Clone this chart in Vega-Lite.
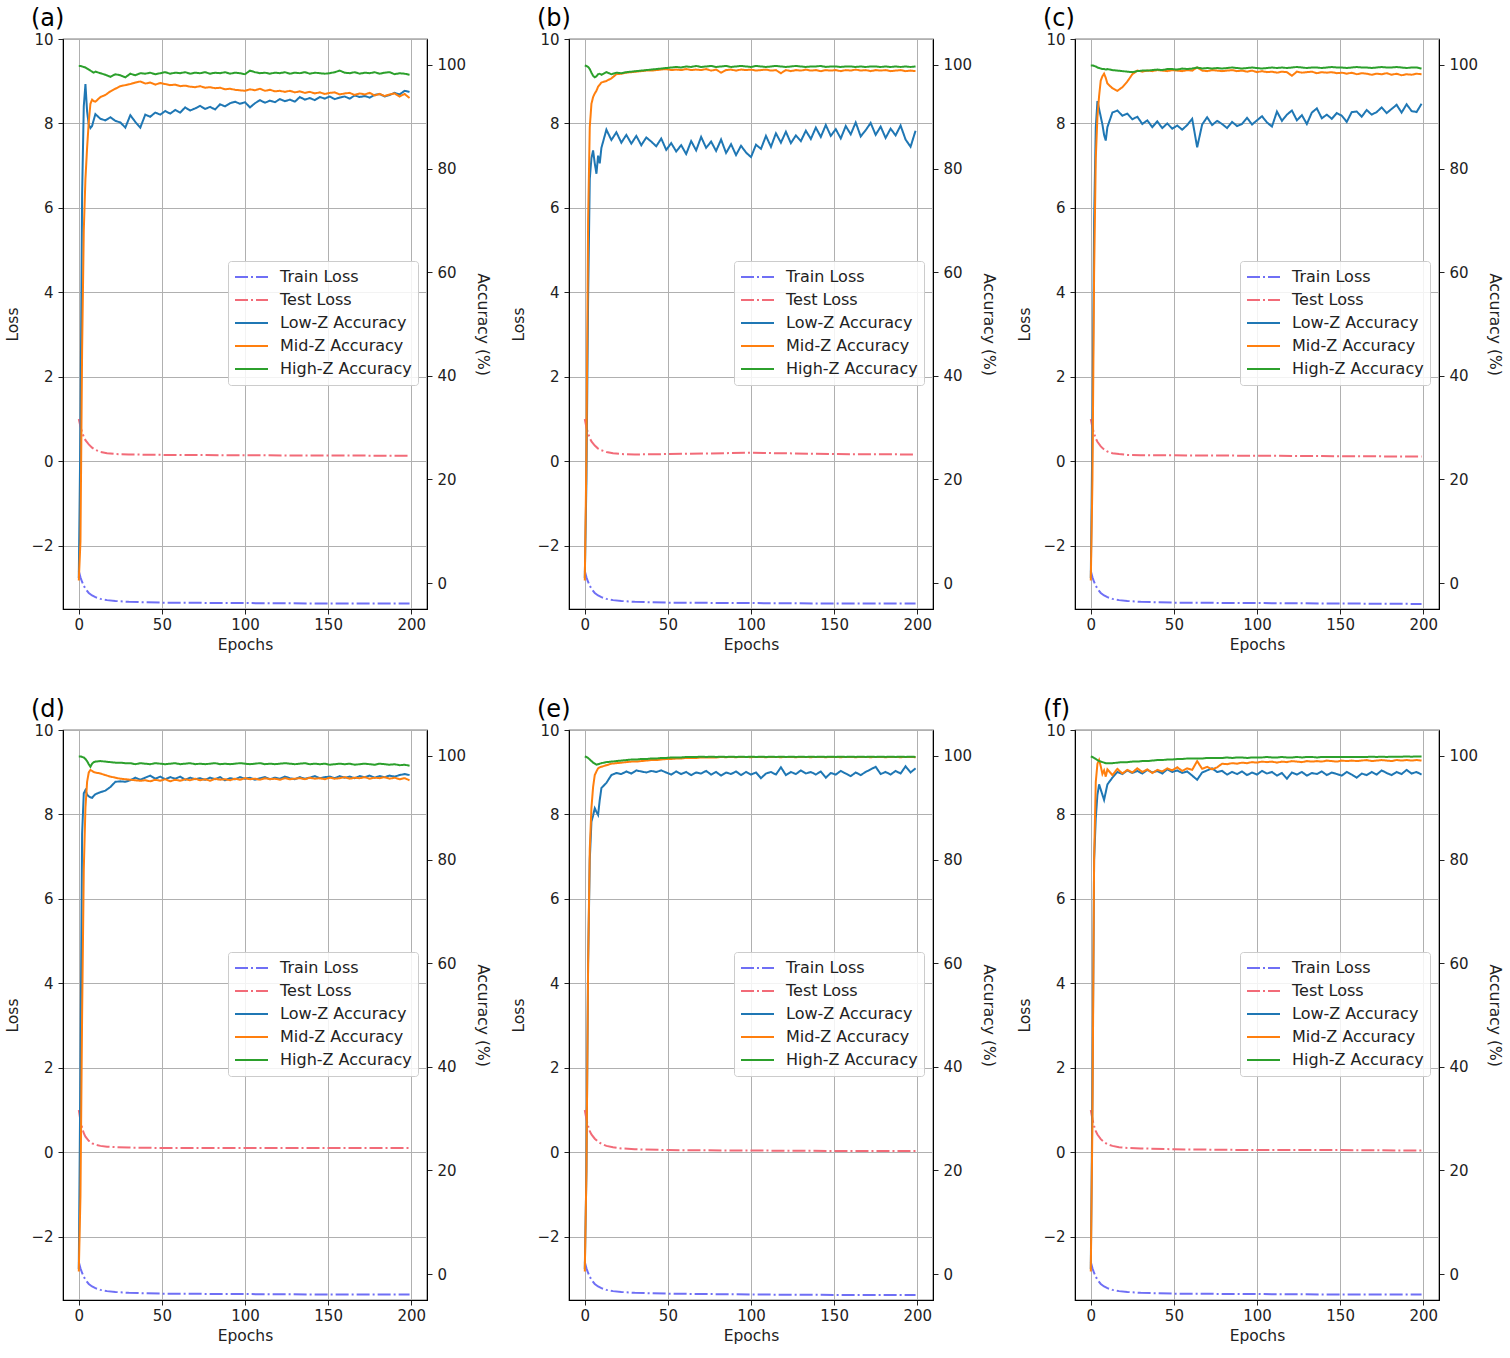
{
"$schema": "https://vega.github.io/schema/vega-lite/v6.json",
"background": "white",
"padding": {"left": 5, "top": 6, "right": 5, "bottom": 5},
"columns": 3,
"spacing": {"row": 43, "column": 20},
"resolve": {"scale": {"color": "independent", "strokeDash": "independent"}, "legend": {"color": "independent", "strokeDash": "independent"}},
"config": {
 "font": "DejaVu Sans",
 "view": {"stroke": "#000", "strokeWidth": 1.2},
 "axis": {"labelFont": "DejaVu Sans", "titleFont": "DejaVu Sans", "labelFontSize": 15, "titleFontSize": 15.5, "titleFontWeight": "normal", "labelColor": "#222", "titleColor": "#222", "domainColor": "#000", "tickColor": "#222", "tickSize": 5, "gridColor": "#b0b0b0", "gridWidth": 1},
 "title": {"font": "DejaVu Sans", "fontSize": 24, "fontWeight": "normal", "anchor": "start", "frame": "group", "dx": -32, "color": "#000", "offset": 1},
 "legend": {"labelFont": "DejaVu Sans", "labelFontSize": 16, "labelColor": "#222", "symbolType": "stroke", "symbolSize": 1089, "symbolStrokeWidth": 2, "fillColor": "rgba(255,255,255,0.85)", "strokeColor": "#cccccc", "cornerRadius": 3, "padding": 6, "labelOffset": 11, "labelLimit": 300, "rowPadding": 3, "clipHeight": 20}
},
"datasets": {
"loss": [
{"p":"a","e":0,"tr":-2.6,"te":1.0},{"p":"a","e":1,"tr":-2.75,"te":0.82},{"p":"a","e":2,"tr":-2.86,"te":0.68},{"p":"a","e":3,"tr":-2.95,"te":0.58},{"p":"a","e":4,"tr":-3.02,"te":0.5},{"p":"a","e":6,"tr":-3.12,"te":0.4},{"p":"a","e":8,"tr":-3.18,"te":0.32},{"p":"a","e":10,"tr":-3.22,"te":0.27},{"p":"a","e":13,"tr":-3.26,"te":0.22},{"p":"a","e":17,"tr":-3.29,"te":0.19},{"p":"a","e":22,"tr":-3.31,"te":0.17},{"p":"a","e":30,"tr":-3.33,"te":0.16},{"p":"a","e":50,"tr":-3.35,"te":0.15},{"p":"a","e":100,"tr":-3.36,"te":0.14},{"p":"a","e":150,"tr":-3.37,"te":0.135},{"p":"a","e":199,"tr":-3.37,"te":0.13},
{"p":"b","e":0,"tr":-2.6,"te":1.0},{"p":"b","e":1,"tr":-2.75,"te":0.8},{"p":"b","e":2,"tr":-2.86,"te":0.66},{"p":"b","e":3,"tr":-2.95,"te":0.55},{"p":"b","e":4,"tr":-3.02,"te":0.47},{"p":"b","e":6,"tr":-3.12,"te":0.37},{"p":"b","e":8,"tr":-3.18,"te":0.3},{"p":"b","e":10,"tr":-3.22,"te":0.26},{"p":"b","e":13,"tr":-3.26,"te":0.22},{"p":"b","e":17,"tr":-3.29,"te":0.19},{"p":"b","e":22,"tr":-3.31,"te":0.17},{"p":"b","e":30,"tr":-3.33,"te":0.16},{"p":"b","e":50,"tr":-3.35,"te":0.17},{"p":"b","e":100,"tr":-3.36,"te":0.2},{"p":"b","e":150,"tr":-3.37,"te":0.17},{"p":"b","e":199,"tr":-3.37,"te":0.16},
{"p":"c","e":0,"tr":-2.6,"te":1.0},{"p":"c","e":1,"tr":-2.75,"te":0.8},{"p":"c","e":2,"tr":-2.86,"te":0.65},{"p":"c","e":3,"tr":-2.95,"te":0.54},{"p":"c","e":4,"tr":-3.02,"te":0.46},{"p":"c","e":6,"tr":-3.12,"te":0.35},{"p":"c","e":8,"tr":-3.18,"te":0.28},{"p":"c","e":10,"tr":-3.22,"te":0.23},{"p":"c","e":13,"tr":-3.26,"te":0.19},{"p":"c","e":17,"tr":-3.29,"te":0.17},{"p":"c","e":22,"tr":-3.31,"te":0.15},{"p":"c","e":30,"tr":-3.33,"te":0.14},{"p":"c","e":50,"tr":-3.35,"te":0.14},{"p":"c","e":100,"tr":-3.36,"te":0.13},{"p":"c","e":150,"tr":-3.37,"te":0.12},{"p":"c","e":199,"tr":-3.38,"te":0.11},
{"p":"d","e":0,"tr":-2.6,"te":1.0},{"p":"d","e":1,"tr":-2.75,"te":0.75},{"p":"d","e":2,"tr":-2.86,"te":0.58},{"p":"d","e":3,"tr":-2.95,"te":0.45},{"p":"d","e":4,"tr":-3.02,"te":0.37},{"p":"d","e":6,"tr":-3.12,"te":0.27},{"p":"d","e":8,"tr":-3.18,"te":0.21},{"p":"d","e":10,"tr":-3.22,"te":0.18},{"p":"d","e":13,"tr":-3.26,"te":0.15},{"p":"d","e":17,"tr":-3.29,"te":0.13},{"p":"d","e":22,"tr":-3.31,"te":0.12},{"p":"d","e":30,"tr":-3.33,"te":0.11},{"p":"d","e":50,"tr":-3.35,"te":0.1},{"p":"d","e":100,"tr":-3.36,"te":0.1},{"p":"d","e":150,"tr":-3.37,"te":0.1},{"p":"d","e":199,"tr":-3.37,"te":0.1},
{"p":"e","e":0,"tr":-2.6,"te":1.0},{"p":"e","e":1,"tr":-2.75,"te":0.78},{"p":"e","e":2,"tr":-2.86,"te":0.62},{"p":"e","e":3,"tr":-2.95,"te":0.5},{"p":"e","e":4,"tr":-3.02,"te":0.42},{"p":"e","e":6,"tr":-3.12,"te":0.32},{"p":"e","e":8,"tr":-3.18,"te":0.25},{"p":"e","e":10,"tr":-3.22,"te":0.2},{"p":"e","e":13,"tr":-3.26,"te":0.15},{"p":"e","e":17,"tr":-3.29,"te":0.12},{"p":"e","e":22,"tr":-3.31,"te":0.09},{"p":"e","e":30,"tr":-3.33,"te":0.07},{"p":"e","e":50,"tr":-3.35,"te":0.05},{"p":"e","e":100,"tr":-3.37,"te":0.04},{"p":"e","e":150,"tr":-3.38,"te":0.03},{"p":"e","e":199,"tr":-3.38,"te":0.03},
{"p":"f","e":0,"tr":-2.6,"te":1.0},{"p":"f","e":1,"tr":-2.75,"te":0.78},{"p":"f","e":2,"tr":-2.86,"te":0.62},{"p":"f","e":3,"tr":-2.95,"te":0.5},{"p":"f","e":4,"tr":-3.02,"te":0.42},{"p":"f","e":6,"tr":-3.12,"te":0.31},{"p":"f","e":8,"tr":-3.18,"te":0.24},{"p":"f","e":10,"tr":-3.22,"te":0.19},{"p":"f","e":13,"tr":-3.26,"te":0.15},{"p":"f","e":17,"tr":-3.29,"te":0.12},{"p":"f","e":22,"tr":-3.31,"te":0.1},{"p":"f","e":30,"tr":-3.33,"te":0.09},{"p":"f","e":50,"tr":-3.35,"te":0.07},{"p":"f","e":100,"tr":-3.36,"te":0.05},{"p":"f","e":150,"tr":-3.37,"te":0.05},{"p":"f","e":199,"tr":-3.37,"te":0.04}
],
"acc": [
{"p":"a","e":0,"l":1,"m":0.5,"h":99.8},{"p":"a","e":1,"l":30,"m":8,"h":99.8},{"p":"a","e":2,"l":75,"m":45,"h":99.7},{"p":"a","e":3,"l":92,"m":68,"h":99.6},{"p":"a","e":4,"l":96.3,"m":78,"h":99.5},{"p":"a","e":5,"l":91,"m":84,"h":99.3},{"p":"a","e":6,"l":88.5,"m":89,"h":99.1},{"p":"a","e":7,"l":87.8,"m":92.5,"h":98.9},{"p":"a","e":8,"l":88.2,"m":93.3,"h":98.7},{"p":"a","e":9,"l":89.4,"m":93.0,"h":98.5},{"p":"a","e":10,"l":90.5,"m":92.9,"h":98.7},
{"p":"a","e":13,"l":89.6,"m":93.8,"h":98.4},{"p":"a","e":16,"l":89.3,"m":94.2,"h":98.1},{"p":"a","e":19,"l":89.9,"m":94.9,"h":97.7},{"p":"a","e":22,"l":89.2,"m":95.4,"h":98.2},{"p":"a","e":25,"l":88.9,"m":95.9,"h":98.0},{"p":"a","e":28,"l":87.9,"m":96.1,"h":97.6},{"p":"a","e":31,"l":90.3,"m":96.3,"h":98.3},{"p":"a","e":34,"l":89.0,"m":96.6,"h":98.0},{"p":"a","e":37,"l":87.9,"m":96.8,"h":98.4},{"p":"a","e":40,"l":90.4,"m":96.4,"h":98.3},{"p":"a","e":43,"l":90.0,"m":96.6,"h":98.5},{"p":"a","e":46,"l":90.8,"m":96.2,"h":98.2},{"p":"a","e":49,"l":90.4,"m":96.5,"h":98.4},{"p":"a","e":52,"l":91.1,"m":96.3,"h":98.6},{"p":"a","e":55,"l":90.6,"m":96.1,"h":98.3},{"p":"a","e":58,"l":91.3,"m":96.2,"h":98.5},{"p":"a","e":61,"l":90.8,"m":95.9,"h":98.4},{"p":"a","e":64,"l":91.8,"m":96.0,"h":98.6},{"p":"a","e":67,"l":91.2,"m":95.8,"h":98.3},{"p":"a","e":70,"l":91.6,"m":95.7,"h":98.5},{"p":"a","e":73,"l":92.1,"m":95.9,"h":98.4},{"p":"a","e":76,"l":91.5,"m":95.6,"h":98.6},{"p":"a","e":79,"l":91.9,"m":95.7,"h":98.3},{"p":"a","e":82,"l":91.4,"m":95.5,"h":98.5},{"p":"a","e":85,"l":92.4,"m":95.6,"h":98.4},{"p":"a","e":88,"l":92.0,"m":95.3,"h":98.6},{"p":"a","e":91,"l":92.6,"m":95.4,"h":98.3},{"p":"a","e":94,"l":92.9,"m":95.2,"h":98.5},{"p":"a","e":97,"l":92.5,"m":95.1,"h":98.4},{"p":"a","e":100,"l":92.8,"m":95.0,"h":98.2},{"p":"a","e":103,"l":91.8,"m":95.3,"h":98.9},{"p":"a","e":106,"l":92.6,"m":95.1,"h":98.6},{"p":"a","e":109,"l":93.2,"m":95.4,"h":98.4},{"p":"a","e":112,"l":92.7,"m":95.0,"h":98.5},{"p":"a","e":115,"l":93.1,"m":95.2,"h":98.3},{"p":"a","e":118,"l":92.8,"m":94.9,"h":98.5},{"p":"a","e":121,"l":93.4,"m":95.0,"h":98.4},{"p":"a","e":124,"l":93.0,"m":94.8,"h":98.6},{"p":"a","e":127,"l":93.3,"m":95.0,"h":98.3},{"p":"a","e":130,"l":92.9,"m":94.7,"h":98.5},{"p":"a","e":133,"l":93.8,"m":94.9,"h":98.4},{"p":"a","e":136,"l":93.3,"m":94.6,"h":98.6},{"p":"a","e":139,"l":93.6,"m":94.8,"h":98.3},{"p":"a","e":142,"l":93.2,"m":94.5,"h":98.5},{"p":"a","e":145,"l":93.8,"m":94.7,"h":98.4},{"p":"a","e":148,"l":93.5,"m":94.4,"h":98.3},{"p":"a","e":151,"l":93.9,"m":94.6,"h":98.4},{"p":"a","e":154,"l":93.4,"m":94.7,"h":98.6},{"p":"a","e":157,"l":93.7,"m":94.3,"h":98.9},{"p":"a","e":160,"l":93.9,"m":94.5,"h":98.5},{"p":"a","e":163,"l":93.5,"m":94.6,"h":98.4},{"p":"a","e":166,"l":94.1,"m":94.2,"h":98.6},{"p":"a","e":169,"l":93.8,"m":94.5,"h":98.3},{"p":"a","e":172,"l":94.0,"m":94.3,"h":98.5},{"p":"a","e":175,"l":93.7,"m":94.6,"h":98.4},{"p":"a","e":178,"l":94.2,"m":94.1,"h":98.6},{"p":"a","e":181,"l":94.4,"m":94.4,"h":98.3},{"p":"a","e":184,"l":93.9,"m":94.0,"h":98.5},{"p":"a","e":187,"l":94.2,"m":94.3,"h":98.6},{"p":"a","e":190,"l":94.6,"m":94.5,"h":98.2},{"p":"a","e":193,"l":94.3,"m":93.9,"h":98.4},{"p":"a","e":196,"l":95.0,"m":94.4,"h":98.3},{"p":"a","e":199,"l":94.8,"m":93.6,"h":98.1},
{"p":"b","e":0,"l":1,"m":0.5,"h":99.9},{"p":"b","e":1,"l":20,"m":25,"h":99.8},{"p":"b","e":2,"l":55,"m":70,"h":99.6},{"p":"b","e":3,"l":78,"m":88,"h":99.2},{"p":"b","e":4,"l":82,"m":92.5,"h":98.5},{"p":"b","e":5,"l":83.5,"m":93.8,"h":97.9},{"p":"b","e":6,"l":81,"m":94.5,"h":97.6},{"p":"b","e":7,"l":79,"m":95.0,"h":97.8},{"p":"b","e":8,"l":82.5,"m":95.8,"h":98.2},{"p":"b","e":9,"l":81,"m":96.2,"h":98.3},{"p":"b","e":10,"l":84,"m":96.6,"h":98.1},
{"p":"b","e":13,"l":87.5,"m":96.9,"h":98.6},{"p":"b","e":16,"l":85.5,"m":97.4,"h":98.2},{"p":"b","e":19,"l":87,"m":98.2,"h":98.5},{"p":"b","e":22,"l":85,"m":98.3,"h":98.4},{"p":"b","e":25,"l":86.5,"m":98.5,"h":98.6},{"p":"b","e":28,"l":84.8,"m":98.6,"h":98.7},{"p":"b","e":31,"l":86.3,"m":98.7,"h":98.8},{"p":"b","e":34,"l":84.5,"m":98.8,"h":98.9},{"p":"b","e":37,"l":86,"m":98.9,"h":99.0},{"p":"b","e":40,"l":85.2,"m":98.9,"h":99.1},{"p":"b","e":43,"l":84.3,"m":99.0,"h":99.2},{"p":"b","e":46,"l":85.8,"m":99.1,"h":99.3},{"p":"b","e":49,"l":83.6,"m":99.2,"h":99.4},{"p":"b","e":52,"l":84.9,"m":99.0,"h":99.5},{"p":"b","e":55,"l":83.3,"m":99.1,"h":99.6},{"p":"b","e":58,"l":84.5,"m":99.0,"h":99.5},{"p":"b","e":61,"l":82.8,"m":99.2,"h":99.7},{"p":"b","e":64,"l":85.3,"m":99.0,"h":99.6},{"p":"b","e":67,"l":83.5,"m":99.1,"h":99.8},{"p":"b","e":70,"l":86.1,"m":99.0,"h":99.6},{"p":"b","e":73,"l":84,"m":99.2,"h":99.7},{"p":"b","e":76,"l":85.2,"m":98.9,"h":99.8},{"p":"b","e":79,"l":83.4,"m":99.1,"h":99.6},{"p":"b","e":82,"l":85.6,"m":98.5,"h":99.7},{"p":"b","e":85,"l":83,"m":99.0,"h":99.8},{"p":"b","e":88,"l":84.7,"m":99.1,"h":99.6},{"p":"b","e":91,"l":82.6,"m":98.9,"h":99.7},{"p":"b","e":94,"l":84.4,"m":99.1,"h":99.8},{"p":"b","e":97,"l":83.1,"m":99.0,"h":99.7},{"p":"b","e":100,"l":82.2,"m":99.1,"h":99.6},{"p":"b","e":103,"l":84.6,"m":98.9,"h":99.8},{"p":"b","e":106,"l":83.8,"m":99.0,"h":99.7},{"p":"b","e":109,"l":86.3,"m":99.1,"h":99.6},{"p":"b","e":112,"l":84.2,"m":98.9,"h":99.7},{"p":"b","e":115,"l":86.8,"m":99.0,"h":99.8},{"p":"b","e":118,"l":85,"m":98.4,"h":99.7},{"p":"b","e":121,"l":87.1,"m":99.0,"h":99.6},{"p":"b","e":124,"l":84.9,"m":98.8,"h":99.7},{"p":"b","e":127,"l":86.4,"m":99.0,"h":99.8},{"p":"b","e":130,"l":85.3,"m":98.9,"h":99.7},{"p":"b","e":133,"l":87.3,"m":99.1,"h":99.6},{"p":"b","e":136,"l":85.7,"m":98.9,"h":99.7},{"p":"b","e":139,"l":87.9,"m":99.0,"h":99.7},{"p":"b","e":142,"l":86.1,"m":98.8,"h":99.8},{"p":"b","e":145,"l":88.4,"m":99.0,"h":99.6},{"p":"b","e":148,"l":86.3,"m":98.9,"h":99.7},{"p":"b","e":151,"l":87.6,"m":99.0,"h":99.7},{"p":"b","e":154,"l":85.8,"m":98.8,"h":99.6},{"p":"b","e":157,"l":88.2,"m":99.0,"h":99.7},{"p":"b","e":160,"l":86.6,"m":98.9,"h":99.7},{"p":"b","e":163,"l":88.9,"m":99.1,"h":99.6},{"p":"b","e":166,"l":86.2,"m":98.9,"h":99.7},{"p":"b","e":169,"l":87.4,"m":99.0,"h":99.6},{"p":"b","e":172,"l":88.8,"m":98.8,"h":99.7},{"p":"b","e":175,"l":86.5,"m":99.0,"h":99.7},{"p":"b","e":178,"l":88.1,"m":98.9,"h":99.6},{"p":"b","e":181,"l":85.9,"m":99.0,"h":99.7},{"p":"b","e":184,"l":87.7,"m":98.8,"h":99.6},{"p":"b","e":187,"l":86.4,"m":98.9,"h":99.7},{"p":"b","e":190,"l":88.3,"m":99.0,"h":99.6},{"p":"b","e":193,"l":85.6,"m":98.8,"h":99.7},{"p":"b","e":196,"l":84.2,"m":98.9,"h":99.6},{"p":"b","e":199,"l":87.3,"m":98.8,"h":99.7},
{"p":"c","e":0,"l":1,"m":0.5,"h":99.9},{"p":"c","e":1,"l":30,"m":20,"h":99.9},{"p":"c","e":2,"l":70,"m":60,"h":99.8},{"p":"c","e":3,"l":88,"m":82,"h":99.7},{"p":"c","e":4,"l":93,"m":90,"h":99.5},{"p":"c","e":5,"l":91.5,"m":94,"h":99.4},{"p":"c","e":6,"l":90,"m":97,"h":99.3},{"p":"c","e":7,"l":88.5,"m":97.8,"h":99.2},{"p":"c","e":8,"l":86.5,"m":98.3,"h":99.2},{"p":"c","e":9,"l":85.4,"m":97.5,"h":99.1},{"p":"c","e":10,"l":88,"m":96.4,"h":99.2},
{"p":"c","e":13,"l":90.8,"m":95.5,"h":99.0},{"p":"c","e":16,"l":91.2,"m":95.0,"h":98.9},{"p":"c","e":19,"l":90.2,"m":95.7,"h":98.8},{"p":"c","e":22,"l":90.6,"m":96.8,"h":98.7},{"p":"c","e":25,"l":89.5,"m":98.2,"h":98.6},{"p":"c","e":28,"l":90.0,"m":98.9,"h":98.8},{"p":"c","e":31,"l":88.6,"m":98.7,"h":98.9},{"p":"c","e":34,"l":89.3,"m":98.9,"h":98.9},{"p":"c","e":37,"l":88.0,"m":98.8,"h":99.0},{"p":"c","e":40,"l":89.1,"m":99.0,"h":99.1},{"p":"c","e":43,"l":87.8,"m":98.9,"h":99.0},{"p":"c","e":46,"l":88.7,"m":98.8,"h":99.2},{"p":"c","e":49,"l":87.7,"m":99.0,"h":99.2},{"p":"c","e":52,"l":88.3,"m":98.9,"h":99.1},{"p":"c","e":55,"l":87.5,"m":98.8,"h":99.3},{"p":"c","e":58,"l":88.4,"m":99.0,"h":99.2},{"p":"c","e":61,"l":89.6,"m":98.9,"h":99.3},{"p":"c","e":64,"l":84.1,"m":99.5,"h":99.5},{"p":"c","e":67,"l":88.5,"m":98.9,"h":99.3},{"p":"c","e":70,"l":89.9,"m":98.8,"h":99.4},{"p":"c","e":73,"l":88.4,"m":99.0,"h":99.3},{"p":"c","e":76,"l":89.2,"m":98.9,"h":99.4},{"p":"c","e":79,"l":88.6,"m":98.8,"h":99.3},{"p":"c","e":82,"l":87.8,"m":98.9,"h":99.4},{"p":"c","e":85,"l":89.0,"m":99.0,"h":99.5},{"p":"c","e":88,"l":88.2,"m":98.8,"h":99.4},{"p":"c","e":91,"l":88.6,"m":98.9,"h":99.3},{"p":"c","e":94,"l":89.8,"m":98.7,"h":99.4},{"p":"c","e":97,"l":88.5,"m":98.9,"h":99.5},{"p":"c","e":100,"l":89.3,"m":98.6,"h":99.4},{"p":"c","e":103,"l":90.1,"m":98.8,"h":99.3},{"p":"c","e":106,"l":88.9,"m":98.6,"h":99.4},{"p":"c","e":109,"l":88.1,"m":98.7,"h":99.5},{"p":"c","e":112,"l":91.0,"m":98.5,"h":99.4},{"p":"c","e":115,"l":89.2,"m":98.7,"h":99.5},{"p":"c","e":118,"l":90.4,"m":98.6,"h":99.4},{"p":"c","e":121,"l":91.2,"m":97.9,"h":99.5},{"p":"c","e":124,"l":89.3,"m":98.7,"h":99.6},{"p":"c","e":127,"l":90.3,"m":98.5,"h":99.5},{"p":"c","e":130,"l":88.6,"m":98.6,"h":99.4},{"p":"c","e":133,"l":90.8,"m":98.7,"h":99.5},{"p":"c","e":136,"l":91.6,"m":98.4,"h":99.5},{"p":"c","e":139,"l":89.7,"m":98.6,"h":99.4},{"p":"c","e":142,"l":90.4,"m":98.5,"h":99.5},{"p":"c","e":145,"l":89.6,"m":98.6,"h":99.6},{"p":"c","e":148,"l":90.7,"m":98.4,"h":99.5},{"p":"c","e":151,"l":90.2,"m":98.5,"h":99.5},{"p":"c","e":154,"l":89.0,"m":98.3,"h":99.4},{"p":"c","e":157,"l":90.9,"m":98.5,"h":99.5},{"p":"c","e":160,"l":91.0,"m":98.2,"h":99.6},{"p":"c","e":163,"l":90.0,"m":98.4,"h":99.5},{"p":"c","e":166,"l":91.3,"m":98.3,"h":99.5},{"p":"c","e":169,"l":90.4,"m":98.1,"h":99.4},{"p":"c","e":172,"l":90.9,"m":98.3,"h":99.5},{"p":"c","e":175,"l":91.8,"m":98.2,"h":99.6},{"p":"c","e":178,"l":90.7,"m":98.4,"h":99.5},{"p":"c","e":181,"l":91.5,"m":98.1,"h":99.5},{"p":"c","e":184,"l":92.3,"m":98.3,"h":99.6},{"p":"c","e":187,"l":90.8,"m":98.0,"h":99.5},{"p":"c","e":190,"l":92.4,"m":98.2,"h":99.4},{"p":"c","e":193,"l":91.1,"m":98.1,"h":99.5},{"p":"c","e":196,"l":90.9,"m":98.3,"h":99.5},{"p":"c","e":199,"l":92.5,"m":98.2,"h":99.3},
{"p":"d","e":0,"l":1,"m":0.5,"h":99.9},{"p":"d","e":1,"l":40,"m":15,"h":99.9},{"p":"d","e":2,"l":85,"m":50,"h":99.8},{"p":"d","e":3,"l":92.8,"m":78,"h":99.7},{"p":"d","e":4,"l":93.4,"m":90,"h":99.4},{"p":"d","e":5,"l":92.5,"m":95,"h":99.0},{"p":"d","e":6,"l":92.2,"m":96.8,"h":98.4},{"p":"d","e":7,"l":92.0,"m":97.3,"h":97.9},{"p":"d","e":8,"l":91.9,"m":97.1,"h":98.5},{"p":"d","e":9,"l":92.3,"m":96.9,"h":98.8},{"p":"d","e":10,"l":92.6,"m":96.8,"h":98.9},
{"p":"d","e":13,"l":93.0,"m":96.6,"h":99.0},{"p":"d","e":16,"l":93.3,"m":96.3,"h":98.9},{"p":"d","e":19,"l":94.0,"m":96.0,"h":98.8},{"p":"d","e":22,"l":95.0,"m":95.8,"h":98.7},{"p":"d","e":25,"l":95.1,"m":95.6,"h":98.7},{"p":"d","e":28,"l":95.0,"m":95.5,"h":98.6},{"p":"d","e":31,"l":95.3,"m":95.4,"h":98.6},{"p":"d","e":34,"l":95.8,"m":95.3,"h":98.4},{"p":"d","e":37,"l":95.4,"m":95.2,"h":98.6},{"p":"d","e":40,"l":95.8,"m":95.3,"h":98.5},{"p":"d","e":43,"l":96.2,"m":95.1,"h":98.4},{"p":"d","e":46,"l":95.6,"m":95.4,"h":98.6},{"p":"d","e":49,"l":96.0,"m":95.2,"h":98.5},{"p":"d","e":52,"l":95.5,"m":95.5,"h":98.4},{"p":"d","e":55,"l":95.9,"m":95.1,"h":98.5},{"p":"d","e":58,"l":95.6,"m":95.4,"h":98.6},{"p":"d","e":61,"l":96.0,"m":95.2,"h":98.4},{"p":"d","e":64,"l":95.4,"m":95.5,"h":98.5},{"p":"d","e":67,"l":95.8,"m":95.3,"h":98.6},{"p":"d","e":70,"l":95.5,"m":95.6,"h":98.4},{"p":"d","e":73,"l":95.7,"m":95.3,"h":98.5},{"p":"d","e":76,"l":95.4,"m":95.5,"h":98.4},{"p":"d","e":79,"l":95.8,"m":95.2,"h":98.5},{"p":"d","e":82,"l":95.5,"m":95.6,"h":98.6},{"p":"d","e":85,"l":95.9,"m":95.4,"h":98.4},{"p":"d","e":88,"l":95.3,"m":95.5,"h":98.5},{"p":"d","e":91,"l":95.7,"m":95.3,"h":98.4},{"p":"d","e":94,"l":95.5,"m":95.6,"h":98.5},{"p":"d","e":97,"l":95.9,"m":95.4,"h":98.6},{"p":"d","e":100,"l":95.6,"m":95.7,"h":98.5},{"p":"d","e":103,"l":95.8,"m":95.5,"h":98.4},{"p":"d","e":106,"l":95.4,"m":95.6,"h":98.5},{"p":"d","e":109,"l":95.7,"m":95.4,"h":98.6},{"p":"d","e":112,"l":95.9,"m":95.7,"h":98.4},{"p":"d","e":115,"l":95.5,"m":95.5,"h":98.5},{"p":"d","e":118,"l":95.8,"m":95.6,"h":98.4},{"p":"d","e":121,"l":95.6,"m":95.4,"h":98.5},{"p":"d","e":124,"l":96.0,"m":95.7,"h":98.6},{"p":"d","e":127,"l":95.7,"m":95.5,"h":98.5},{"p":"d","e":130,"l":95.5,"m":95.6,"h":98.4},{"p":"d","e":133,"l":95.9,"m":95.7,"h":98.5},{"p":"d","e":136,"l":95.6,"m":95.5,"h":98.6},{"p":"d","e":139,"l":95.8,"m":95.8,"h":98.4},{"p":"d","e":142,"l":96.1,"m":95.6,"h":98.5},{"p":"d","e":145,"l":95.7,"m":95.7,"h":98.4},{"p":"d","e":148,"l":95.9,"m":95.5,"h":98.5},{"p":"d","e":151,"l":96.0,"m":95.8,"h":98.3},{"p":"d","e":154,"l":95.7,"m":95.6,"h":98.4},{"p":"d","e":157,"l":96.1,"m":95.7,"h":98.5},{"p":"d","e":160,"l":95.8,"m":95.9,"h":98.4},{"p":"d","e":163,"l":96.0,"m":95.6,"h":98.5},{"p":"d","e":166,"l":95.7,"m":95.8,"h":98.3},{"p":"d","e":169,"l":96.1,"m":95.7,"h":98.4},{"p":"d","e":172,"l":95.9,"m":95.9,"h":98.5},{"p":"d","e":175,"l":96.2,"m":95.6,"h":98.4},{"p":"d","e":178,"l":95.8,"m":95.8,"h":98.3},{"p":"d","e":181,"l":96.1,"m":95.7,"h":98.5},{"p":"d","e":184,"l":95.9,"m":95.9,"h":98.4},{"p":"d","e":187,"l":96.2,"m":95.6,"h":98.3},{"p":"d","e":190,"l":96.0,"m":95.8,"h":98.4},{"p":"d","e":193,"l":96.3,"m":95.5,"h":98.2},{"p":"d","e":196,"l":96.5,"m":95.7,"h":98.3},{"p":"d","e":199,"l":96.3,"m":95.3,"h":98.1},
{"p":"e","e":0,"l":1,"m":0.5,"h":99.9},{"p":"e","e":1,"l":20,"m":20,"h":99.8},{"p":"e","e":2,"l":60,"m":60,"h":99.6},{"p":"e","e":3,"l":80,"m":82,"h":99.3},{"p":"e","e":4,"l":87.3,"m":90,"h":99.0},{"p":"e","e":5,"l":88.5,"m":94,"h":98.7},{"p":"e","e":6,"l":89.9,"m":96.3,"h":98.5},{"p":"e","e":7,"l":89.2,"m":97.0,"h":98.3},{"p":"e","e":8,"l":88.6,"m":97.6,"h":98.4},{"p":"e","e":9,"l":91.5,"m":97.8,"h":98.5},{"p":"e","e":10,"l":93.8,"m":97.9,"h":98.6},
{"p":"e","e":13,"l":94.8,"m":98.2,"h":98.8},{"p":"e","e":16,"l":96.3,"m":98.5,"h":98.9},{"p":"e","e":19,"l":96.7,"m":98.6,"h":99.0},{"p":"e","e":22,"l":96.5,"m":98.7,"h":99.1},{"p":"e","e":25,"l":97.0,"m":98.8,"h":99.2},{"p":"e","e":28,"l":96.6,"m":98.9,"h":99.3},{"p":"e","e":31,"l":97.2,"m":98.9,"h":99.3},{"p":"e","e":34,"l":97.0,"m":99.0,"h":99.4},{"p":"e","e":37,"l":96.8,"m":99.1,"h":99.4},{"p":"e","e":40,"l":97.1,"m":99.2,"h":99.5},{"p":"e","e":43,"l":96.9,"m":99.2,"h":99.5},{"p":"e","e":46,"l":97.2,"m":99.3,"h":99.6},{"p":"e","e":49,"l":96.8,"m":99.4,"h":99.6},{"p":"e","e":52,"l":96.4,"m":99.4,"h":99.7},{"p":"e","e":55,"l":97.0,"m":99.5,"h":99.7},{"p":"e","e":58,"l":96.5,"m":99.5,"h":99.7},{"p":"e","e":61,"l":96.9,"m":99.6,"h":99.8},{"p":"e","e":64,"l":96.3,"m":99.6,"h":99.8},{"p":"e","e":67,"l":96.8,"m":99.6,"h":99.8},{"p":"e","e":70,"l":96.6,"m":99.7,"h":99.85},{"p":"e","e":73,"l":97.1,"m":99.7,"h":99.8},{"p":"e","e":76,"l":96.4,"m":99.7,"h":99.85},{"p":"e","e":79,"l":96.9,"m":99.7,"h":99.8},{"p":"e","e":82,"l":96.2,"m":99.8,"h":99.85},{"p":"e","e":85,"l":96.8,"m":99.75,"h":99.8},{"p":"e","e":88,"l":96.5,"m":99.8,"h":99.85},{"p":"e","e":91,"l":97.0,"m":99.75,"h":99.8},{"p":"e","e":94,"l":96.3,"m":99.8,"h":99.85},{"p":"e","e":97,"l":96.9,"m":99.8,"h":99.8},{"p":"e","e":100,"l":96.4,"m":99.75,"h":99.85},{"p":"e","e":103,"l":96.8,"m":99.8,"h":99.8},{"p":"e","e":106,"l":95.7,"m":99.8,"h":99.85},{"p":"e","e":109,"l":96.6,"m":99.75,"h":99.8},{"p":"e","e":112,"l":96.9,"m":99.8,"h":99.85},{"p":"e","e":115,"l":96.4,"m":99.8,"h":99.8},{"p":"e","e":118,"l":97.8,"m":99.75,"h":99.85},{"p":"e","e":121,"l":96.3,"m":99.8,"h":99.8},{"p":"e","e":124,"l":96.9,"m":99.8,"h":99.85},{"p":"e","e":127,"l":96.5,"m":99.75,"h":99.8},{"p":"e","e":130,"l":97.2,"m":99.8,"h":99.85},{"p":"e","e":133,"l":96.6,"m":99.8,"h":99.8},{"p":"e","e":136,"l":96.9,"m":99.75,"h":99.85},{"p":"e","e":139,"l":96.4,"m":99.8,"h":99.8},{"p":"e","e":142,"l":97.0,"m":99.8,"h":99.85},{"p":"e","e":145,"l":95.8,"m":99.75,"h":99.8},{"p":"e","e":148,"l":96.7,"m":99.8,"h":99.85},{"p":"e","e":151,"l":96.4,"m":99.8,"h":99.8},{"p":"e","e":154,"l":97.1,"m":99.75,"h":99.85},{"p":"e","e":157,"l":96.6,"m":99.8,"h":99.8},{"p":"e","e":160,"l":96.1,"m":99.8,"h":99.85},{"p":"e","e":163,"l":96.8,"m":99.75,"h":99.8},{"p":"e","e":166,"l":96.3,"m":99.8,"h":99.85},{"p":"e","e":169,"l":96.9,"m":99.8,"h":99.8},{"p":"e","e":172,"l":97.4,"m":99.75,"h":99.85},{"p":"e","e":175,"l":97.9,"m":99.8,"h":99.8},{"p":"e","e":178,"l":96.5,"m":99.8,"h":99.85},{"p":"e","e":181,"l":96.9,"m":99.75,"h":99.8},{"p":"e","e":184,"l":96.4,"m":99.8,"h":99.85},{"p":"e","e":187,"l":97.1,"m":99.8,"h":99.8},{"p":"e","e":190,"l":96.6,"m":99.75,"h":99.85},{"p":"e","e":193,"l":98.0,"m":99.8,"h":99.8},{"p":"e","e":196,"l":96.8,"m":99.8,"h":99.85},{"p":"e","e":199,"l":97.6,"m":99.75,"h":99.8},
{"p":"f","e":0,"l":1,"m":0.5,"h":99.9},{"p":"f","e":1,"l":35,"m":30,"h":99.8},{"p":"f","e":2,"l":80,"m":80,"h":99.6},{"p":"f","e":3,"l":88,"m":95,"h":99.4},{"p":"f","e":4,"l":92.5,"m":98.5,"h":99.2},{"p":"f","e":5,"l":94.5,"m":99.2,"h":99.0},{"p":"f","e":6,"l":93.5,"m":98.0,"h":98.9},{"p":"f","e":7,"l":92.5,"m":96.5,"h":98.8},{"p":"f","e":8,"l":91.5,"m":97.2,"h":98.7},{"p":"f","e":9,"l":93,"m":96.0,"h":98.6},{"p":"f","e":10,"l":94.5,"m":97.4,"h":98.6},
{"p":"f","e":13,"l":95.8,"m":96.3,"h":98.6},{"p":"f","e":16,"l":96.9,"m":97.5,"h":98.7},{"p":"f","e":19,"l":96.5,"m":96.6,"h":98.8},{"p":"f","e":22,"l":97.2,"m":97.3,"h":98.8},{"p":"f","e":25,"l":96.7,"m":96.8,"h":98.9},{"p":"f","e":28,"l":97.1,"m":97.6,"h":98.9},{"p":"f","e":31,"l":96.6,"m":96.9,"h":99.0},{"p":"f","e":34,"l":97.3,"m":97.4,"h":99.0},{"p":"f","e":37,"l":96.8,"m":96.7,"h":99.1},{"p":"f","e":40,"l":97.1,"m":97.3,"h":99.2},{"p":"f","e":43,"l":96.6,"m":97.0,"h":99.2},{"p":"f","e":46,"l":97.4,"m":97.6,"h":99.3},{"p":"f","e":49,"l":96.9,"m":97.2,"h":99.3},{"p":"f","e":52,"l":97.2,"m":97.8,"h":99.4},{"p":"f","e":55,"l":96.7,"m":97.1,"h":99.4},{"p":"f","e":58,"l":97.0,"m":97.6,"h":99.5},{"p":"f","e":61,"l":96.2,"m":97.3,"h":99.5},{"p":"f","e":64,"l":95.4,"m":99.0,"h":99.5},{"p":"f","e":67,"l":96.8,"m":97.5,"h":99.5},{"p":"f","e":70,"l":97.2,"m":97.9,"h":99.6},{"p":"f","e":73,"l":97.6,"m":97.4,"h":99.6},{"p":"f","e":76,"l":96.9,"m":97.8,"h":99.6},{"p":"f","e":79,"l":97.1,"m":98.5,"h":99.6},{"p":"f","e":82,"l":96.4,"m":98.4,"h":99.7},{"p":"f","e":85,"l":96.9,"m":98.6,"h":99.6},{"p":"f","e":88,"l":96.5,"m":98.5,"h":99.7},{"p":"f","e":91,"l":97.0,"m":98.7,"h":99.7},{"p":"f","e":94,"l":96.3,"m":98.6,"h":99.6},{"p":"f","e":97,"l":96.8,"m":98.8,"h":99.7},{"p":"f","e":100,"l":96.4,"m":98.7,"h":99.7},{"p":"f","e":103,"l":97.1,"m":98.9,"h":99.7},{"p":"f","e":106,"l":96.6,"m":98.8,"h":99.8},{"p":"f","e":109,"l":96.9,"m":98.9,"h":99.7},{"p":"f","e":112,"l":96.2,"m":98.7,"h":99.7},{"p":"f","e":115,"l":96.7,"m":98.9,"h":99.8},{"p":"f","e":118,"l":95.6,"m":98.8,"h":99.7},{"p":"f","e":121,"l":96.8,"m":99.0,"h":99.7},{"p":"f","e":124,"l":96.4,"m":98.9,"h":99.8},{"p":"f","e":127,"l":96.9,"m":98.8,"h":99.7},{"p":"f","e":130,"l":96.2,"m":99.0,"h":99.8},{"p":"f","e":133,"l":96.7,"m":98.9,"h":99.8},{"p":"f","e":136,"l":96.5,"m":99.0,"h":99.7},{"p":"f","e":139,"l":97.0,"m":98.9,"h":99.8},{"p":"f","e":142,"l":96.3,"m":99.1,"h":99.8},{"p":"f","e":145,"l":96.8,"m":99.0,"h":99.8},{"p":"f","e":148,"l":96.5,"m":98.9,"h":99.8},{"p":"f","e":151,"l":96.2,"m":99.1,"h":99.8},{"p":"f","e":154,"l":96.9,"m":99.0,"h":99.8},{"p":"f","e":157,"l":96.4,"m":99.1,"h":99.8},{"p":"f","e":160,"l":95.8,"m":99.0,"h":99.8},{"p":"f","e":163,"l":96.6,"m":99.1,"h":99.8},{"p":"f","e":166,"l":96.3,"m":99.2,"h":99.8},{"p":"f","e":169,"l":96.9,"m":99.0,"h":99.85},{"p":"f","e":172,"l":96.4,"m":99.1,"h":99.8},{"p":"f","e":175,"l":97.2,"m":99.2,"h":99.85},{"p":"f","e":178,"l":96.7,"m":99.1,"h":99.8},{"p":"f","e":181,"l":96.3,"m":99.0,"h":99.85},{"p":"f","e":184,"l":96.9,"m":99.2,"h":99.85},{"p":"f","e":187,"l":96.5,"m":99.1,"h":99.85},{"p":"f","e":190,"l":97.3,"m":99.2,"h":99.9},{"p":"f","e":193,"l":96.6,"m":99.1,"h":99.85},{"p":"f","e":196,"l":96.9,"m":99.2,"h":99.9},{"p":"f","e":199,"l":96.4,"m":99.1,"h":99.9}
]
},
"concat": [
{"title": "(a)", "width": 364, "height": 570, "resolve": {"scale": {"y": "independent"}},
 "layer": [
  {"data": {"name": "loss"}, "transform": [{"filter": "datum.p=='a'"}, {"fold": ["tr", "te"], "as": ["s", "v"]}], "mark": {"type": "line", "strokeWidth": 2},
   "encoding": {
    "x": {"field": "e", "type": "quantitative", "scale": {"domain": [-9.5, 209.5], "nice": false, "zero": false}, "axis": {"title": "Epochs", "values": [0, 50, 100, 150, 200], "format": "d", "grid": true, "labelPadding": 3, "titlePadding": 5}},
    "y": {"field": "v", "type": "quantitative", "scale": {"domain": [-3.5, 10], "nice": false, "zero": false}, "axis": {"title": "Loss", "orient": "left", "values": [-2, 0, 2, 4, 6, 8, 10], "format": "d", "grid": true, "labelPadding": 5, "titlePadding": 10}},
    "color": {"field": "s", "type": "nominal", "scale": {"domain": ["tr", "te", "l", "m", "h"], "range": ["#6f6ff5", "#f26b78", "#1f77b4", "#ff7f0e", "#2ca02c"]}, "legend": {"orient": "none", "legendX": 165, "legendY": 222, "title": null, "labelExpr": "datum.label=='tr'?'Train Loss':datum.label=='te'?'Test Loss':datum.label=='l'?'Low-Z Accuracy':datum.label=='m'?'Mid-Z Accuracy':'High-Z Accuracy'"}},
    "strokeDash": {"field": "s", "type": "nominal", "scale": {"domain": ["tr", "te", "l", "m", "h"], "range": [[13, 3, 2, 3], [13, 3, 2, 3], [1, 0], [1, 0], [1, 0]]}}
   }},
  {"data": {"name": "acc"}, "transform": [{"filter": "datum.p=='a'"}, {"fold": ["l", "m", "h"], "as": ["s", "v"]}], "mark": {"type": "line", "strokeWidth": 2},
   "encoding": {
    "x": {"field": "e", "type": "quantitative", "scale": {"domain": [-9.5, 209.5], "nice": false, "zero": false}, "axis": {"title": "Epochs", "values": [0, 50, 100, 150, 200], "format": "d", "grid": true, "labelPadding": 3, "titlePadding": 5}},
    "y": {"field": "v", "type": "quantitative", "scale": {"domain": [-5, 105], "nice": false, "zero": false}, "axis": {"title": "Accuracy (%)", "orient": "right", "values": [0, 20, 40, 60, 80, 100], "format": "d", "grid": false, "labelPadding": 5, "titlePadding": 9}},
    "color": {"field": "s", "type": "nominal", "scale": {"domain": ["tr", "te", "l", "m", "h"], "range": ["#6f6ff5", "#f26b78", "#1f77b4", "#ff7f0e", "#2ca02c"]}, "legend": {"orient": "none", "legendX": 165, "legendY": 222, "title": null, "labelExpr": "datum.label=='tr'?'Train Loss':datum.label=='te'?'Test Loss':datum.label=='l'?'Low-Z Accuracy':datum.label=='m'?'Mid-Z Accuracy':'High-Z Accuracy'"}},
    "strokeDash": {"field": "s", "type": "nominal", "scale": {"domain": ["tr", "te", "l", "m", "h"], "range": [[13, 3, 2, 3], [13, 3, 2, 3], [1, 0], [1, 0], [1, 0]]}}
   }}
 ]},
{"title": "(b)", "width": 364, "height": 570, "resolve": {"scale": {"y": "independent"}},
 "layer": [
  {"data": {"name": "loss"}, "transform": [{"filter": "datum.p=='b'"}, {"fold": ["tr", "te"], "as": ["s", "v"]}], "mark": {"type": "line", "strokeWidth": 2},
   "encoding": {
    "x": {"field": "e", "type": "quantitative", "scale": {"domain": [-9.5, 209.5], "nice": false, "zero": false}, "axis": {"title": "Epochs", "values": [0, 50, 100, 150, 200], "format": "d", "grid": true, "labelPadding": 3, "titlePadding": 5}},
    "y": {"field": "v", "type": "quantitative", "scale": {"domain": [-3.5, 10], "nice": false, "zero": false}, "axis": {"title": "Loss", "orient": "left", "values": [-2, 0, 2, 4, 6, 8, 10], "format": "d", "grid": true, "labelPadding": 5, "titlePadding": 10}},
    "color": {"field": "s", "type": "nominal", "scale": {"domain": ["tr", "te", "l", "m", "h"], "range": ["#6f6ff5", "#f26b78", "#1f77b4", "#ff7f0e", "#2ca02c"]}, "legend": {"orient": "none", "legendX": 165, "legendY": 222, "title": null, "labelExpr": "datum.label=='tr'?'Train Loss':datum.label=='te'?'Test Loss':datum.label=='l'?'Low-Z Accuracy':datum.label=='m'?'Mid-Z Accuracy':'High-Z Accuracy'"}},
    "strokeDash": {"field": "s", "type": "nominal", "scale": {"domain": ["tr", "te", "l", "m", "h"], "range": [[13, 3, 2, 3], [13, 3, 2, 3], [1, 0], [1, 0], [1, 0]]}}
   }},
  {"data": {"name": "acc"}, "transform": [{"filter": "datum.p=='b'"}, {"fold": ["l", "m", "h"], "as": ["s", "v"]}], "mark": {"type": "line", "strokeWidth": 2},
   "encoding": {
    "x": {"field": "e", "type": "quantitative", "scale": {"domain": [-9.5, 209.5], "nice": false, "zero": false}, "axis": {"title": "Epochs", "values": [0, 50, 100, 150, 200], "format": "d", "grid": true, "labelPadding": 3, "titlePadding": 5}},
    "y": {"field": "v", "type": "quantitative", "scale": {"domain": [-5, 105], "nice": false, "zero": false}, "axis": {"title": "Accuracy (%)", "orient": "right", "values": [0, 20, 40, 60, 80, 100], "format": "d", "grid": false, "labelPadding": 5, "titlePadding": 9}},
    "color": {"field": "s", "type": "nominal", "scale": {"domain": ["tr", "te", "l", "m", "h"], "range": ["#6f6ff5", "#f26b78", "#1f77b4", "#ff7f0e", "#2ca02c"]}, "legend": {"orient": "none", "legendX": 165, "legendY": 222, "title": null, "labelExpr": "datum.label=='tr'?'Train Loss':datum.label=='te'?'Test Loss':datum.label=='l'?'Low-Z Accuracy':datum.label=='m'?'Mid-Z Accuracy':'High-Z Accuracy'"}},
    "strokeDash": {"field": "s", "type": "nominal", "scale": {"domain": ["tr", "te", "l", "m", "h"], "range": [[13, 3, 2, 3], [13, 3, 2, 3], [1, 0], [1, 0], [1, 0]]}}
   }}
 ]},
{"title": "(c)", "width": 364, "height": 570, "resolve": {"scale": {"y": "independent"}},
 "layer": [
  {"data": {"name": "loss"}, "transform": [{"filter": "datum.p=='c'"}, {"fold": ["tr", "te"], "as": ["s", "v"]}], "mark": {"type": "line", "strokeWidth": 2},
   "encoding": {
    "x": {"field": "e", "type": "quantitative", "scale": {"domain": [-9.5, 209.5], "nice": false, "zero": false}, "axis": {"title": "Epochs", "values": [0, 50, 100, 150, 200], "format": "d", "grid": true, "labelPadding": 3, "titlePadding": 5}},
    "y": {"field": "v", "type": "quantitative", "scale": {"domain": [-3.5, 10], "nice": false, "zero": false}, "axis": {"title": "Loss", "orient": "left", "values": [-2, 0, 2, 4, 6, 8, 10], "format": "d", "grid": true, "labelPadding": 5, "titlePadding": 10}},
    "color": {"field": "s", "type": "nominal", "scale": {"domain": ["tr", "te", "l", "m", "h"], "range": ["#6f6ff5", "#f26b78", "#1f77b4", "#ff7f0e", "#2ca02c"]}, "legend": {"orient": "none", "legendX": 165, "legendY": 222, "title": null, "labelExpr": "datum.label=='tr'?'Train Loss':datum.label=='te'?'Test Loss':datum.label=='l'?'Low-Z Accuracy':datum.label=='m'?'Mid-Z Accuracy':'High-Z Accuracy'"}},
    "strokeDash": {"field": "s", "type": "nominal", "scale": {"domain": ["tr", "te", "l", "m", "h"], "range": [[13, 3, 2, 3], [13, 3, 2, 3], [1, 0], [1, 0], [1, 0]]}}
   }},
  {"data": {"name": "acc"}, "transform": [{"filter": "datum.p=='c'"}, {"fold": ["l", "m", "h"], "as": ["s", "v"]}], "mark": {"type": "line", "strokeWidth": 2},
   "encoding": {
    "x": {"field": "e", "type": "quantitative", "scale": {"domain": [-9.5, 209.5], "nice": false, "zero": false}, "axis": {"title": "Epochs", "values": [0, 50, 100, 150, 200], "format": "d", "grid": true, "labelPadding": 3, "titlePadding": 5}},
    "y": {"field": "v", "type": "quantitative", "scale": {"domain": [-5, 105], "nice": false, "zero": false}, "axis": {"title": "Accuracy (%)", "orient": "right", "values": [0, 20, 40, 60, 80, 100], "format": "d", "grid": false, "labelPadding": 5, "titlePadding": 9}},
    "color": {"field": "s", "type": "nominal", "scale": {"domain": ["tr", "te", "l", "m", "h"], "range": ["#6f6ff5", "#f26b78", "#1f77b4", "#ff7f0e", "#2ca02c"]}, "legend": {"orient": "none", "legendX": 165, "legendY": 222, "title": null, "labelExpr": "datum.label=='tr'?'Train Loss':datum.label=='te'?'Test Loss':datum.label=='l'?'Low-Z Accuracy':datum.label=='m'?'Mid-Z Accuracy':'High-Z Accuracy'"}},
    "strokeDash": {"field": "s", "type": "nominal", "scale": {"domain": ["tr", "te", "l", "m", "h"], "range": [[13, 3, 2, 3], [13, 3, 2, 3], [1, 0], [1, 0], [1, 0]]}}
   }}
 ]},
{"title": "(d)", "width": 364, "height": 570, "resolve": {"scale": {"y": "independent"}},
 "layer": [
  {"data": {"name": "loss"}, "transform": [{"filter": "datum.p=='d'"}, {"fold": ["tr", "te"], "as": ["s", "v"]}], "mark": {"type": "line", "strokeWidth": 2},
   "encoding": {
    "x": {"field": "e", "type": "quantitative", "scale": {"domain": [-9.5, 209.5], "nice": false, "zero": false}, "axis": {"title": "Epochs", "values": [0, 50, 100, 150, 200], "format": "d", "grid": true, "labelPadding": 3, "titlePadding": 5}},
    "y": {"field": "v", "type": "quantitative", "scale": {"domain": [-3.5, 10], "nice": false, "zero": false}, "axis": {"title": "Loss", "orient": "left", "values": [-2, 0, 2, 4, 6, 8, 10], "format": "d", "grid": true, "labelPadding": 5, "titlePadding": 10}},
    "color": {"field": "s", "type": "nominal", "scale": {"domain": ["tr", "te", "l", "m", "h"], "range": ["#6f6ff5", "#f26b78", "#1f77b4", "#ff7f0e", "#2ca02c"]}, "legend": {"orient": "none", "legendX": 165, "legendY": 222, "title": null, "labelExpr": "datum.label=='tr'?'Train Loss':datum.label=='te'?'Test Loss':datum.label=='l'?'Low-Z Accuracy':datum.label=='m'?'Mid-Z Accuracy':'High-Z Accuracy'"}},
    "strokeDash": {"field": "s", "type": "nominal", "scale": {"domain": ["tr", "te", "l", "m", "h"], "range": [[13, 3, 2, 3], [13, 3, 2, 3], [1, 0], [1, 0], [1, 0]]}}
   }},
  {"data": {"name": "acc"}, "transform": [{"filter": "datum.p=='d'"}, {"fold": ["l", "m", "h"], "as": ["s", "v"]}], "mark": {"type": "line", "strokeWidth": 2},
   "encoding": {
    "x": {"field": "e", "type": "quantitative", "scale": {"domain": [-9.5, 209.5], "nice": false, "zero": false}, "axis": {"title": "Epochs", "values": [0, 50, 100, 150, 200], "format": "d", "grid": true, "labelPadding": 3, "titlePadding": 5}},
    "y": {"field": "v", "type": "quantitative", "scale": {"domain": [-5, 105], "nice": false, "zero": false}, "axis": {"title": "Accuracy (%)", "orient": "right", "values": [0, 20, 40, 60, 80, 100], "format": "d", "grid": false, "labelPadding": 5, "titlePadding": 9}},
    "color": {"field": "s", "type": "nominal", "scale": {"domain": ["tr", "te", "l", "m", "h"], "range": ["#6f6ff5", "#f26b78", "#1f77b4", "#ff7f0e", "#2ca02c"]}, "legend": {"orient": "none", "legendX": 165, "legendY": 222, "title": null, "labelExpr": "datum.label=='tr'?'Train Loss':datum.label=='te'?'Test Loss':datum.label=='l'?'Low-Z Accuracy':datum.label=='m'?'Mid-Z Accuracy':'High-Z Accuracy'"}},
    "strokeDash": {"field": "s", "type": "nominal", "scale": {"domain": ["tr", "te", "l", "m", "h"], "range": [[13, 3, 2, 3], [13, 3, 2, 3], [1, 0], [1, 0], [1, 0]]}}
   }}
 ]},
{"title": "(e)", "width": 364, "height": 570, "resolve": {"scale": {"y": "independent"}},
 "layer": [
  {"data": {"name": "loss"}, "transform": [{"filter": "datum.p=='e'"}, {"fold": ["tr", "te"], "as": ["s", "v"]}], "mark": {"type": "line", "strokeWidth": 2},
   "encoding": {
    "x": {"field": "e", "type": "quantitative", "scale": {"domain": [-9.5, 209.5], "nice": false, "zero": false}, "axis": {"title": "Epochs", "values": [0, 50, 100, 150, 200], "format": "d", "grid": true, "labelPadding": 3, "titlePadding": 5}},
    "y": {"field": "v", "type": "quantitative", "scale": {"domain": [-3.5, 10], "nice": false, "zero": false}, "axis": {"title": "Loss", "orient": "left", "values": [-2, 0, 2, 4, 6, 8, 10], "format": "d", "grid": true, "labelPadding": 5, "titlePadding": 10}},
    "color": {"field": "s", "type": "nominal", "scale": {"domain": ["tr", "te", "l", "m", "h"], "range": ["#6f6ff5", "#f26b78", "#1f77b4", "#ff7f0e", "#2ca02c"]}, "legend": {"orient": "none", "legendX": 165, "legendY": 222, "title": null, "labelExpr": "datum.label=='tr'?'Train Loss':datum.label=='te'?'Test Loss':datum.label=='l'?'Low-Z Accuracy':datum.label=='m'?'Mid-Z Accuracy':'High-Z Accuracy'"}},
    "strokeDash": {"field": "s", "type": "nominal", "scale": {"domain": ["tr", "te", "l", "m", "h"], "range": [[13, 3, 2, 3], [13, 3, 2, 3], [1, 0], [1, 0], [1, 0]]}}
   }},
  {"data": {"name": "acc"}, "transform": [{"filter": "datum.p=='e'"}, {"fold": ["l", "m", "h"], "as": ["s", "v"]}], "mark": {"type": "line", "strokeWidth": 2},
   "encoding": {
    "x": {"field": "e", "type": "quantitative", "scale": {"domain": [-9.5, 209.5], "nice": false, "zero": false}, "axis": {"title": "Epochs", "values": [0, 50, 100, 150, 200], "format": "d", "grid": true, "labelPadding": 3, "titlePadding": 5}},
    "y": {"field": "v", "type": "quantitative", "scale": {"domain": [-5, 105], "nice": false, "zero": false}, "axis": {"title": "Accuracy (%)", "orient": "right", "values": [0, 20, 40, 60, 80, 100], "format": "d", "grid": false, "labelPadding": 5, "titlePadding": 9}},
    "color": {"field": "s", "type": "nominal", "scale": {"domain": ["tr", "te", "l", "m", "h"], "range": ["#6f6ff5", "#f26b78", "#1f77b4", "#ff7f0e", "#2ca02c"]}, "legend": {"orient": "none", "legendX": 165, "legendY": 222, "title": null, "labelExpr": "datum.label=='tr'?'Train Loss':datum.label=='te'?'Test Loss':datum.label=='l'?'Low-Z Accuracy':datum.label=='m'?'Mid-Z Accuracy':'High-Z Accuracy'"}},
    "strokeDash": {"field": "s", "type": "nominal", "scale": {"domain": ["tr", "te", "l", "m", "h"], "range": [[13, 3, 2, 3], [13, 3, 2, 3], [1, 0], [1, 0], [1, 0]]}}
   }}
 ]},
{"title": "(f)", "width": 364, "height": 570, "resolve": {"scale": {"y": "independent"}},
 "layer": [
  {"data": {"name": "loss"}, "transform": [{"filter": "datum.p=='f'"}, {"fold": ["tr", "te"], "as": ["s", "v"]}], "mark": {"type": "line", "strokeWidth": 2},
   "encoding": {
    "x": {"field": "e", "type": "quantitative", "scale": {"domain": [-9.5, 209.5], "nice": false, "zero": false}, "axis": {"title": "Epochs", "values": [0, 50, 100, 150, 200], "format": "d", "grid": true, "labelPadding": 3, "titlePadding": 5}},
    "y": {"field": "v", "type": "quantitative", "scale": {"domain": [-3.5, 10], "nice": false, "zero": false}, "axis": {"title": "Loss", "orient": "left", "values": [-2, 0, 2, 4, 6, 8, 10], "format": "d", "grid": true, "labelPadding": 5, "titlePadding": 10}},
    "color": {"field": "s", "type": "nominal", "scale": {"domain": ["tr", "te", "l", "m", "h"], "range": ["#6f6ff5", "#f26b78", "#1f77b4", "#ff7f0e", "#2ca02c"]}, "legend": {"orient": "none", "legendX": 165, "legendY": 222, "title": null, "labelExpr": "datum.label=='tr'?'Train Loss':datum.label=='te'?'Test Loss':datum.label=='l'?'Low-Z Accuracy':datum.label=='m'?'Mid-Z Accuracy':'High-Z Accuracy'"}},
    "strokeDash": {"field": "s", "type": "nominal", "scale": {"domain": ["tr", "te", "l", "m", "h"], "range": [[13, 3, 2, 3], [13, 3, 2, 3], [1, 0], [1, 0], [1, 0]]}}
   }},
  {"data": {"name": "acc"}, "transform": [{"filter": "datum.p=='f'"}, {"fold": ["l", "m", "h"], "as": ["s", "v"]}], "mark": {"type": "line", "strokeWidth": 2},
   "encoding": {
    "x": {"field": "e", "type": "quantitative", "scale": {"domain": [-9.5, 209.5], "nice": false, "zero": false}, "axis": {"title": "Epochs", "values": [0, 50, 100, 150, 200], "format": "d", "grid": true, "labelPadding": 3, "titlePadding": 5}},
    "y": {"field": "v", "type": "quantitative", "scale": {"domain": [-5, 105], "nice": false, "zero": false}, "axis": {"title": "Accuracy (%)", "orient": "right", "values": [0, 20, 40, 60, 80, 100], "format": "d", "grid": false, "labelPadding": 5, "titlePadding": 9}},
    "color": {"field": "s", "type": "nominal", "scale": {"domain": ["tr", "te", "l", "m", "h"], "range": ["#6f6ff5", "#f26b78", "#1f77b4", "#ff7f0e", "#2ca02c"]}, "legend": {"orient": "none", "legendX": 165, "legendY": 222, "title": null, "labelExpr": "datum.label=='tr'?'Train Loss':datum.label=='te'?'Test Loss':datum.label=='l'?'Low-Z Accuracy':datum.label=='m'?'Mid-Z Accuracy':'High-Z Accuracy'"}},
    "strokeDash": {"field": "s", "type": "nominal", "scale": {"domain": ["tr", "te", "l", "m", "h"], "range": [[13, 3, 2, 3], [13, 3, 2, 3], [1, 0], [1, 0], [1, 0]]}}
   }}
 ]}
]
}
